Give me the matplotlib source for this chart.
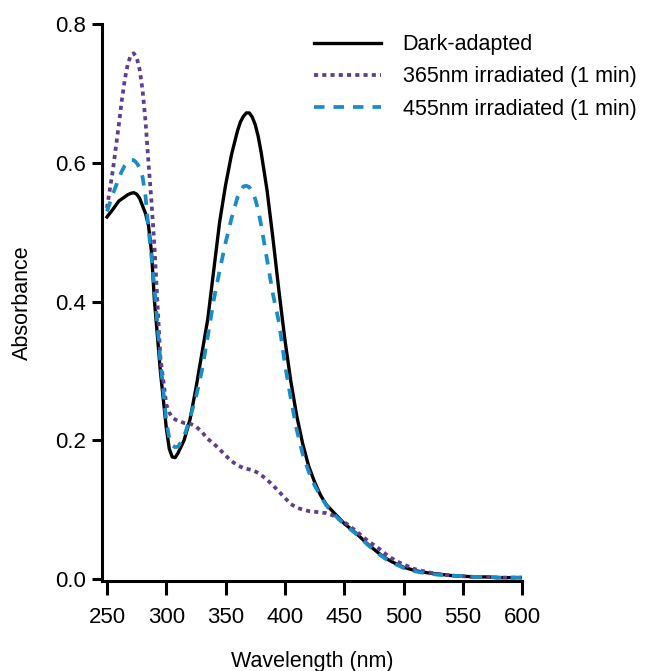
import matplotlib.pyplot as plt
import numpy as np

plt.rcParams['font.family'] = ['Liberation Sans', 'DejaVu Sans']

wavelength = [250, 255, 260, 262.5, 265, 267.5, 270, 272.5, 275, 277.5,
              280, 282.5, 285, 287.5, 290, 295,
              300, 302.5, 305, 307.5, 310, 315, 320, 325, 330, 335, 340, 345,
              350, 355, 360, 362.5, 365, 367.5, 370, 372.5, 375, 377.5,
              380, 385, 390, 395,
              400, 405, 410, 415, 420, 425, 430, 435, 440, 445,
              450, 455, 460, 465, 470, 475, 480, 485, 490, 495,
              500, 510, 520, 530, 540, 550, 560, 570, 580, 590, 600]

dark = [0.522, 0.533, 0.545, 0.548, 0.551, 0.554, 0.556, 0.557, 0.555, 0.549,
        0.538, 0.527, 0.510, 0.472, 0.402, 0.300,
        0.218, 0.188, 0.176, 0.175, 0.182, 0.200, 0.230, 0.275, 0.325, 0.375, 0.445, 0.515,
        0.568, 0.612, 0.646, 0.659, 0.667, 0.672, 0.672, 0.666, 0.655, 0.638,
        0.615, 0.560, 0.490, 0.415,
        0.345, 0.285, 0.235, 0.195, 0.163, 0.140, 0.121, 0.107, 0.098, 0.089,
        0.080, 0.073, 0.066, 0.058, 0.050, 0.043, 0.036, 0.030, 0.025, 0.021,
        0.017, 0.012, 0.009, 0.007, 0.005, 0.004, 0.003, 0.003, 0.002, 0.002, 0.002]

irr365 = [0.535, 0.590, 0.655, 0.690, 0.720, 0.742, 0.755, 0.758, 0.752, 0.735,
          0.705, 0.660, 0.600, 0.545, 0.480, 0.320,
          0.252, 0.240, 0.233, 0.230, 0.228, 0.225, 0.224, 0.220, 0.212, 0.202, 0.195, 0.187,
          0.178, 0.170, 0.164, 0.162, 0.160, 0.159, 0.158, 0.157, 0.155, 0.153,
          0.150, 0.143, 0.135, 0.126,
          0.117, 0.108, 0.103, 0.100, 0.098, 0.097, 0.096, 0.095, 0.092, 0.087,
          0.082, 0.076, 0.069, 0.062, 0.055, 0.049, 0.043, 0.036, 0.030, 0.025,
          0.021, 0.014, 0.010, 0.007, 0.005, 0.004, 0.003, 0.003, 0.002, 0.002, 0.002]

irr455 = [0.530, 0.555, 0.578, 0.588, 0.596, 0.601, 0.604, 0.604, 0.600, 0.593,
          0.580, 0.552, 0.505, 0.465, 0.420, 0.315,
          0.228, 0.203, 0.193, 0.190, 0.191, 0.205, 0.232, 0.262, 0.300, 0.350, 0.402, 0.445,
          0.485, 0.520, 0.550, 0.559, 0.566, 0.567, 0.565, 0.559, 0.548, 0.532,
          0.510, 0.460, 0.410, 0.370,
          0.310, 0.260, 0.215, 0.180, 0.155, 0.135, 0.120, 0.106, 0.096, 0.087,
          0.079, 0.072, 0.065, 0.057, 0.049, 0.042, 0.035, 0.029, 0.024, 0.020,
          0.016, 0.011, 0.008, 0.006, 0.005, 0.004, 0.003, 0.003, 0.002, 0.002, 0.002]

fig = plt.figure(figsize=(6.47, 6.71), dpi=100)
ax = fig.add_axes([0.158, 0.134, 0.649, 0.830])

ax.plot(wavelength, dark, color="black", lw=2.4, label="Dark-adapted",
        solid_joinstyle="round", zorder=2)
ax.plot(wavelength, irr365, color="#5e3f8f", lw=2.7, dashes=(1.1, 1.1),
        dash_joinstyle="round", label="365nm irradiated (1 min)", zorder=3)
ax.plot(wavelength, irr455, color="#1b8dc6", lw=2.7, dashes=(2.8, 2.4),
        dash_joinstyle="round", label="455nm irradiated (1 min)", zorder=4)

ax.set_xlim(246, 600)
ax.set_ylim(-0.003, 0.8)
ax.set_xticks(np.arange(250, 601, 50))
ax.set_yticks([0.0, 0.2, 0.4, 0.6, 0.8])
ax.set_yticklabels(["0.0", "0.2", "0.4", "0.6", "0.8"])

for s in ["top", "right"]:
    ax.spines[s].set_visible(False)
for s in ["left", "bottom"]:
    ax.spines[s].set_linewidth(2.2)

ax.tick_params(axis="x", length=10, width=2.2, labelsize=16, pad=9)
ax.tick_params(axis="y", length=7, width=2.2, labelsize=16, pad=5)

ax.set_xlabel("Wavelength (nm)", fontsize=15.5, labelpad=16)
ax.set_ylabel("Absorbance", fontsize=15.5, labelpad=16)

ax.legend(loc="upper left", bbox_to_anchor=(0.486, 0.949),
          bbox_transform=fig.transFigure, frameon=False, fontsize=15.5,
          handlelength=3.1, handletextpad=1.0, labelspacing=0.52,
          borderaxespad=0, borderpad=0)

fig.savefig("out.png", dpi=100)
